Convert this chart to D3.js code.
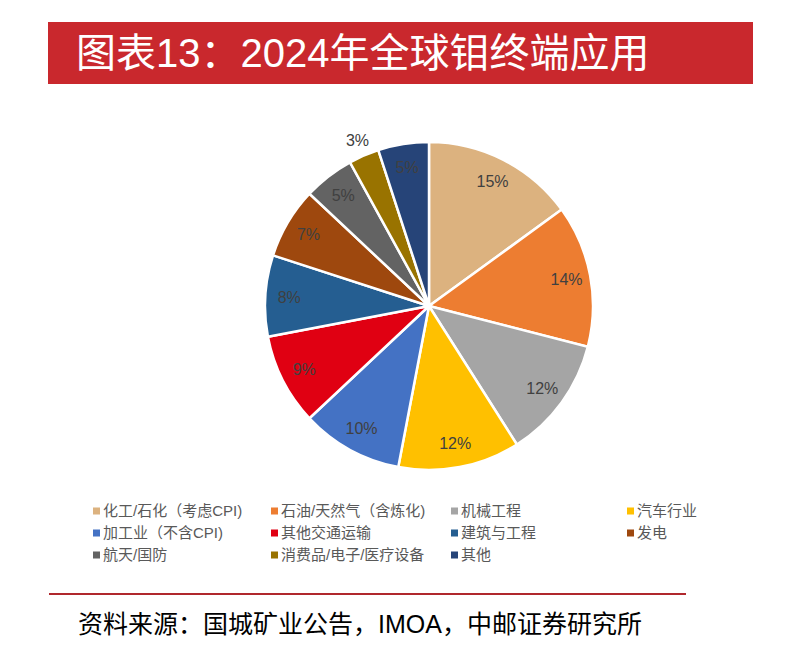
<!DOCTYPE html>
<html>
<head>
<meta charset="utf-8">
<script src="https://cdn.jsdelivr.net/npm/d3@7"></script>
<style>
  body { margin: 0; background: #fff; }
  text { font-family: "Liberation Sans", "Noto Sans CJK SC", sans-serif; }
</style>
</head>
<body>
<script>
//chart data
var categories = ["化工/石化（考虑CPI)", "石油/天然气（含炼化)", "机械工程", "汽车行业",
                  "加工业（不含CPI)", "其他交通运输", "建筑与工程", "发电",
                  "航天/国防", "消费品/电子/医疗设备", "其他"];
var shares = [15, 14, 12, 12, 10, 9, 8, 7, 5, 3, 5];
var colors = ["#dcb27f", "#ed7d31", "#a5a5a5", "#ffc000", "#4472c4", "#e00012",
              "#255e91", "#9e480e", "#636363", "#997300", "#264478"];

var w = 801, h = 648;

var svg = d3.select("body")
    .append("svg")
    .attr("width", w)
    .attr("height", h);

//title banner
svg.append("rect")
    .attr("x", 48)
    .attr("y", 22)
    .attr("width", 705)
    .attr("height", 62)
    .style("fill", "#c9282d");

svg.append("text")
    .attr("x", 76)
    .attr("y", 67)
    .style("font-size", "40px")
    .style("fill", "#fff")
    .text("图表13：2024年全球钼终端应用");

//pie
var cx = 429, cy = 306, r = 164;

var pie = d3.pie()
    .sort(null)
    .value(function(d){ return d; });

var arc = d3.arc()
    .innerRadius(0)
    .outerRadius(r);

var labelArc = d3.arc()
    .innerRadius(140)
    .outerRadius(140);

var outerLabelArc = d3.arc()
    .innerRadius(180)
    .outerRadius(180);

var arcs = pie(shares);

var g = svg.append("g")
    .attr("transform", "translate(" + cx + "," + cy + ")");

g.selectAll(".slice")
    .data(arcs)
    .enter()
    .append("path")
    .attr("class", "slice")
    .attr("d", arc)
    .style("fill", function(d, i){ return colors[i]; })
    .style("stroke", "#fff")
    .style("stroke-width", 2.5);

g.selectAll(".pct")
    .data(arcs)
    .enter()
    .append("text")
    .attr("class", "pct")
    .attr("transform", function(d){
        //smallest slice has its label outside
        var c = d.data < 4 ? outerLabelArc.centroid(d) : labelArc.centroid(d);
        return "translate(" + c[0] + "," + c[1] + ")";
    })
    .attr("text-anchor", "middle")
    .attr("dy", "0.35em")
    .style("font-size", "16px")
    .style("fill", "#404040")
    .text(function(d){ return d.data + "%"; });

//legend, 4 columns
var colX = [93, 271, 451, 627],
    rowY = [511, 533, 555];

var legend = svg.selectAll(".legend")
    .data(categories)
    .enter()
    .append("g")
    .attr("class", "legend")
    .attr("transform", function(d, i){
        return "translate(" + colX[i % 4] + "," + rowY[Math.floor(i / 4)] + ")";
    });

legend.append("rect")
    .attr("x", 0)
    .attr("y", -3.5)
    .attr("width", 7)
    .attr("height", 7)
    .style("fill", function(d, i){ return colors[i]; });

legend.append("text")
    .attr("x", 10)
    .attr("dy", "0.35em")
    .style("font-size", "15px")
    .style("fill", "#595959")
    .text(function(d){ return d; });

//footer
svg.append("line")
    .attr("x1", 49)
    .attr("x2", 686)
    .attr("y1", 594)
    .attr("y2", 594)
    .style("stroke", "#b0282d")
    .style("stroke-width", 2);

svg.append("text")
    .attr("x", 78)
    .attr("y", 633)
    .style("font-size", "25px")
    .style("fill", "#000")
    .text("资料来源：国城矿业公告，IMOA，中邮证券研究所");
</script>
</body>
</html>
